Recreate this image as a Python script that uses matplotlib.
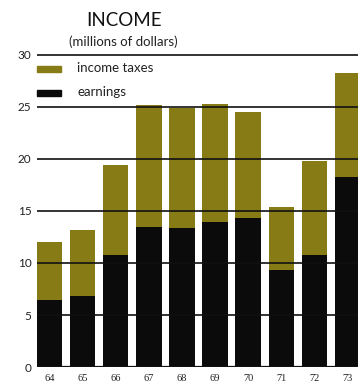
import matplotlib.pyplot as plt
import numpy as np

# income by year, millions of dollars
years = ["64", "65", "66", "67", "68", "69", "70", "71", "72", "73"]
earnings = [6.4, 6.8, 10.8, 13.5, 13.4, 13.9, 14.3, 9.3, 10.8, 18.3]
totals = [12.05, 13.2, 19.4, 25.2, 24.9, 25.3, 24.55, 15.35, 19.8, 28.3]
income_taxes = [t - e for t, e in zip(totals, earnings)]
yticks = [0, 5, 10, 15, 20, 25, 30]

olive = "#867b14"
black = "#0b0b0b"
plt.rcParams['font.family'] = ['Lato', 'DejaVu Sans']

W, H = 358, 384
fig = plt.figure(figsize=(W / 100, H / 100), dpi=100)
y0, y30 = 367, 55
ppu = (y0 - y30) / 30.0
ytop = 30.9
ax = fig.add_axes([37 / W, 1 - y0 / H, 1 - 37 / W, ytop * ppu / H])

x = np.arange(len(years))
ax.bar(x, earnings, width=0.76, color=black, zorder=1)
ax.bar(x, income_taxes, width=0.76, bottom=earnings, color=olive, zorder=1)

for v in yticks:
    ax.axhline(v, color="#111111", lw=1.2 if v else 1.6, zorder=2)

ax.set_xlim(-0.39, 9.33)
ax.set_ylim(0, ytop)
ax.set_yticks(yticks)
ax.set_yticklabels([str(v) for v in yticks], fontsize=8.5, color="#222222")
ax.set_xticks(x)
ax.set_xticklabels(years, fontsize=7.5, color="#222222", family="Liberation Serif")
ax.tick_params(length=0, axis="y", pad=4)
ax.tick_params(length=0, axis="x", pad=5)
for s in ax.spines.values():
    s.set_visible(False)

# heading and legend
fig.text(124 / W, 1 - 20 / H, "INCOME", ha="center", va="center", fontsize=13.5, color="#111111")
fig.text(123 / W, 1 - 42 / H, "(millions of dollars)", ha="center", va="center", fontsize=9.5, color="#222222")
fig.patches.append(plt.Rectangle((37 / W, 1 - 72 / H), 24 / W, 6 / H, transform=fig.transFigure, color=olive))
fig.patches.append(plt.Rectangle((37 / W, 1 - 96 / H), 24 / W, 6 / H, transform=fig.transFigure, color=black))
fig.text(77 / W, 1 - 68 / H, "income taxes", ha="left", va="center", fontsize=9.5, color="#222222")
fig.text(77 / W, 1 - 92 / H, "earnings", ha="left", va="center", fontsize=9.5, color="#222222")

fig.savefig("out.png", dpi=100)
